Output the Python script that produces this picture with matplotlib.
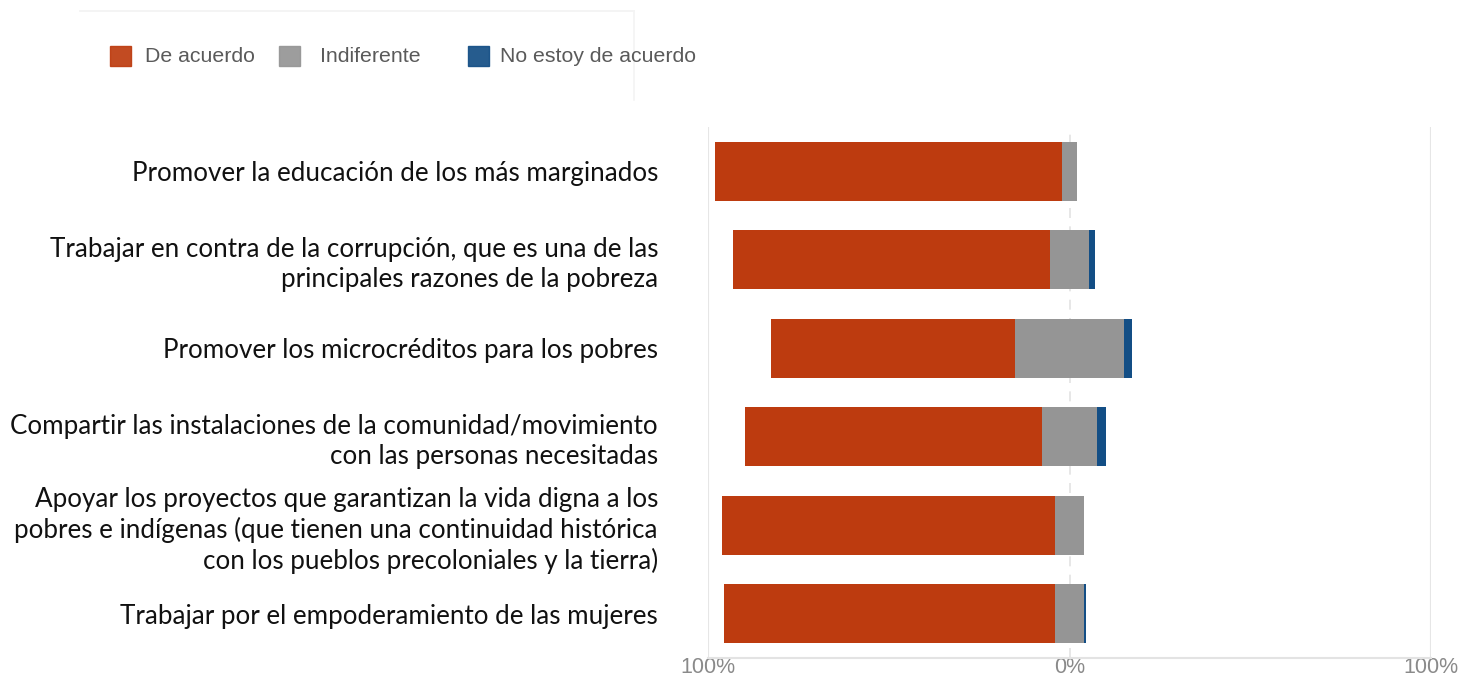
import numpy as np
import matplotlib.pyplot as plt
from matplotlib.patches import Rectangle

# Survey answers (percent of respondents)
categories = [
    "Promover la educación de los más marginados",
    "Trabajar en contra de la corrupción, que es una de las\nprincipales razones de la pobreza",
    "Promover los microcréditos para los pobres",
    "Compartir las instalaciones de la comunidad/movimiento\ncon las personas necesitadas",
    "Apoyar los proyectos que garantizan la vida digna a los\npobres e indígenas (que tienen una continuidad histórica\ncon los pueblos precoloniales y la tierra)",
    "Trabajar por el empoderamiento de las mujeres",
]
de_acuerdo = np.array([96.0, 87.5, 67.5, 82.3, 92.0, 91.6])
indiferente = np.array([4.0, 11.0, 30.4, 15.1, 8.0, 7.9])
no_acuerdo = np.array([0.0, 1.5, 2.1, 2.6, 0.0, 0.5])

series = ["De acuerdo", "Indiferente", "No estoy de acuerdo"]
colors = ["#BD3B0F", "#959595", "#134E85"]
xticks = [-100, 0, 100]
xticklabels = ["100%", "0%", "100%"]

fig = plt.figure(figsize=(14.74, 6.8), dpi=100)
ax = fig.add_axes([708 / 1474, 1 - 658 / 680, 723 / 1474, 531 / 680])

y = np.arange(len(categories))
h = 0.67
# neutral answers are centred on zero
left_red = -indiferente / 2 - de_acuerdo
ax.barh(y, de_acuerdo, left=left_red, height=h, color=colors[0], zorder=3)
ax.barh(y, indiferente, left=-indiferente / 2, height=h, color=colors[1], zorder=3)
ax.barh(y, no_acuerdo, left=indiferente / 2, height=h, color=colors[2], zorder=3)

ax.set_xlim(-100, 100)
ax.set_ylim(len(categories) - 0.5, -0.5)

for x in xticks:
    if x == 0:
        ax.axvline(x, color="#e3e3e3", lw=1.2, ls=(0, (6, 5)), zorder=1)
    else:
        ax.axvline(x, color="#e6e6e6", lw=1.5, zorder=1)

for s in ["top", "right", "left"]:
    ax.spines[s].set_visible(False)
ax.spines["bottom"].set_color("#e3e3e3")
ax.spines["bottom"].set_linewidth(1.5)

ax.set_xticks(xticks)
ax.set_xticklabels(xticklabels, fontsize=15.5, color="#8a8a8a", family="Liberation Sans")
ax.tick_params(axis="x", length=0, pad=-1)

ax.set_yticks(y)
ax.set_yticklabels(categories, fontsize=18.7, family="Lato", color="#111111", linespacing=1.25)
ax.tick_params(axis="y", length=0, pad=36)

# legend row at the top
legend_sq = [110, 279, 468]
legend_tx = [145, 320, 500]
for sx, tx, name, c in zip(legend_sq, legend_tx, series, colors):
    fig.patches.append(Rectangle((sx / 1474, 1 - 66 / 680), 21 / 1474, 20 / 680,
                                 transform=fig.transFigure, color=c, alpha=0.92))
    fig.text(tx / 1474, 1 - 56 / 680, name, fontsize=15.3, color="#5a5a5a",
             family="Liberation Sans", va="center", ha="left")

# faint frame around legend
fig.add_artist(plt.Line2D([80 / 1474, 634 / 1474], [1 - 11 / 680, 1 - 11 / 680],
                          transform=fig.transFigure, color="#f2f2f2", lw=1.2))
fig.add_artist(plt.Line2D([634 / 1474, 634 / 1474], [1 - 11 / 680, 1 - 100 / 680],
                          transform=fig.transFigure, color="#f4f4f4", lw=1.2))

fig.savefig("out.png", dpi=100)
